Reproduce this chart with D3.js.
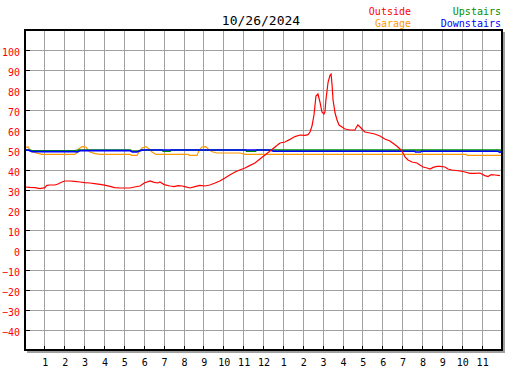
<!DOCTYPE html>
<html>
<head>
    <meta charset="utf-8">
    <style>
        body {
            margin: 0;
            background: white;
        }

        svg {
            display: block;
            font-family: 'DejaVu Sans Mono', monospace;
        }

        .grid line {
            stroke: #a0a0a0;
            stroke-width: 1;
            shape-rendering: crispEdges;
        }

        .series {
            fill: none;
            stroke-linejoin: miter;
        }
    </style>
</head>
<body>
    <svg width="527" height="370"></svg>

<script src="https://d3js.org/d3.v7.min.js"></script>
<script>
    // ---- data (hour of day, degrees) ----
    let title = "10/26/2024"

    let yTicks = [-40, -30, -20, -10, 0, 10, 20, 30, 40, 50, 60, 70, 80, 90, 100]
    let xTicks = [1, 2, 3, 4, 5, 6, 7, 8, 9, 10, 11, 12, 13, 14, 15, 16, 17, 18, 19, 20, 21, 22, 23]
    let xLabels = ["1", "2", "3", "4", "5", "6", "7", "8", "9", "10", "11", "12",
        "1", "2", "3", "4", "5", "6", "7", "8", "9", "10", "11"]

    let outside = [
        [0, 31.5], [0.25, 31.3], [0.5, 31.2], [0.75, 30.7], [1.0, 31.2], [1.1, 32.3], [1.25, 32.5],
        [1.5, 32.5], [1.66, 33], [1.86, 34], [2.0, 34.5], [2.26, 34.5], [2.5, 34.3], [2.77, 34],
        [3.0, 33.7], [3.27, 33.5], [3.5, 33.2], [3.77, 32.8], [4.0, 32.4], [4.28, 31.8], [4.5, 31.2],
        [4.78, 31], [5.0, 31], [5.28, 31], [5.5, 31.5], [5.79, 32], [6.0, 33.5], [6.29, 34.5],
        [6.5, 33.8], [6.69, 33.5], [6.79, 34], [7.0, 32.7], [7.3, 32], [7.5, 31.7], [7.7, 32.2],
        [7.9, 32], [8.05, 31.7], [8.3, 31], [8.55, 31.7], [8.8, 32.3], [9.05, 32], [9.3, 32.5],
        [9.56, 33.5], [9.8, 34.5], [10.06, 36], [10.3, 37.5], [10.57, 39], [10.8, 40], [11.07, 41],
        [11.3, 42.2], [11.57, 43.5], [11.82, 45.5], [12.08, 47.5], [12.33, 49.5], [12.58, 51.5],
        [12.83, 53.5], [13.08, 54], [13.33, 55.3], [13.58, 56.7], [13.84, 57.5], [14.09, 57.3],
        [14.24, 57.7], [14.34, 59], [14.44, 62], [14.54, 67.5], [14.64, 77], [14.74, 78],
        [14.84, 74], [14.94, 69], [15.04, 68], [15.09, 69], [15.14, 75], [15.25, 84], [15.35, 87.5],
        [15.4, 88], [15.45, 82.5], [15.5, 75], [15.6, 68.5], [15.7, 65], [15.8, 62.5], [15.95, 61.5],
        [16.1, 60.5], [16.35, 60], [16.6, 60], [16.65, 61], [16.75, 62.5], [16.86, 61.5], [17.0, 60],
        [17.1, 59], [17.36, 58.5], [17.6, 58], [17.86, 57], [18.1, 55.5], [18.36, 54.5], [18.5, 53.5],
        [18.7, 52], [18.87, 50.5], [19.02, 48.5], [19.12, 46.5], [19.27, 45], [19.47, 44],
        [19.72, 43.5], [19.87, 42.5], [20.03, 41.5], [20.23, 41], [20.38, 40.5], [20.53, 41.3],
        [20.73, 41.8], [20.88, 41.8], [21.13, 41.5], [21.28, 40.5], [21.48, 40], [21.89, 39.5],
        [22.14, 39], [22.39, 38.3], [22.64, 38.3], [22.89, 38.5], [23.14, 37.2], [23.3, 36.7],
        [23.45, 37.7], [23.65, 37.5], [23.9, 37.2]
    ]

    let garage = [
        [0, 51.3], [0.15, 51.5], [0.25, 50], [0.4, 49], [0.65, 48.3], [0.85, 47.8], [2.5, 47.8],
        [2.6, 48.5], [2.7, 50.5], [2.87, 51.7], [3.07, 51.5], [3.17, 50], [3.27, 49], [3.52, 48.2],
        [3.77, 47.8], [5.28, 47.8], [5.38, 47.3], [5.64, 47.3], [5.74, 49], [5.89, 51], [6.09, 51.7],
        [6.24, 50.5], [6.39, 49], [6.59, 47.8], [8.2, 47.8], [8.3, 47.3], [8.65, 47.3], [8.75, 49.5],
        [8.9, 51.5], [9.1, 51.7], [9.26, 50], [9.46, 49], [9.66, 48.5], [10.82, 48.5], [11.07, 47.8],
        [22.19, 47.8], [22.25, 47.3], [24, 47.3]
    ]

    let upstairs = [
        [0, 50], [0.25, 50], [0.35, 49.6], [2.5, 49.6], [2.7, 50], [5.3, 50], [5.38, 49.4],
        [5.7, 49.4], [5.85, 50], [6.9, 50], [6.95, 49.4], [7.3, 49.4], [7.35, 50], [11.1, 50],
        [11.15, 49.4], [11.6, 49.4], [11.65, 50], [23.9, 50], [24, 49.6]
    ]

    let downstairs = [
        [0, 50], [0.15, 50], [0.35, 49.2], [2.5, 49.2], [2.65, 49], [2.77, 49.7], [5.28, 49.7],
        [5.4, 49], [5.64, 49], [5.8, 49.7], [5.95, 50], [12.33, 50], [12.5, 49.4], [19.6, 49.4],
        [19.65, 49], [19.9, 49], [19.95, 49.4], [23.8, 49.4], [23.9, 48.8], [24, 49.4]
    ]

    let legend = [
        { name: "Outside", color: "#ff0000", col: 0, row: 0 },
        { name: "Garage", color: "#ff9900", col: 0, row: 1 },
        { name: "Upstairs", color: "#009000", col: 1, row: 0 },
        { name: "Downstairs", color: "#0000ff", col: 1, row: 1 }
    ]

    // ---- layout ----
    let plotLeft = 25, plotRight = 502, plotTop = 30, plotBottom = 350

    let svg = d3.select("svg")

    let x = d3.scaleLinear().domain([0, 24]).range([plotLeft, plotRight])
    let y = d3.scaleLinear().domain([-50, 110]).range([plotBottom, plotTop])

    // background
    svg.append("rect")
        .attr("width", 527).attr("height", 370)
        .attr("fill", "white")

    // grid
    let grid = svg.append("g").attr("class", "grid")

    grid.selectAll(".hline")
        .data(yTicks)
        .join("line")
        .attr("x1", plotLeft).attr("x2", plotRight)
        .attr("y1", d => y(d)).attr("y2", d => y(d))

    grid.selectAll(".vline")
        .data(xTicks)
        .join("line")
        .attr("x1", d => x(d)).attr("x2", d => x(d))
        .attr("y1", plotTop).attr("y2", plotBottom)

    // small black ticks inside the frame
    svg.append("g")
        .selectAll("line")
        .data(yTicks)
        .join("line")
        .attr("x1", plotLeft).attr("x2", plotLeft + 5)
        .attr("y1", d => y(d)).attr("y2", d => y(d))
        .attr("stroke", "black")
        .attr("shape-rendering", "crispEdges")

    svg.append("g")
        .selectAll("line")
        .data(xTicks)
        .join("line")
        .attr("x1", d => x(d)).attr("x2", d => x(d))
        .attr("y1", plotBottom - 4).attr("y2", plotBottom)
        .attr("stroke", "black")
        .attr("shape-rendering", "crispEdges")

    // series
    let line = d3.line()
        .x(d => x(d[0]))
        .y(d => y(d[1]))

    let series = [
        { data: garage, color: "#ff9900", w: 1.2 },
        { data: upstairs, color: "#009000", w: 1.6 },
        { data: downstairs, color: "#0000ff", w: 1.6 },
        { data: outside, color: "#ff0000", w: 1.2 }
    ]

    svg.append("g")
        .selectAll("path")
        .data(series)
        .join("path")
        .attr("class", "series")
        .attr("d", d => line(d.data))
        .attr("stroke", d => d.color)
        .attr("stroke-width", d => d.w)

    // frame with grey shadow on the right and bottom
    svg.append("path")
        .attr("d", `M${plotLeft + 2},${plotBottom + 2}H${plotRight + 2}V${plotTop + 2}`)
        .attr("fill", "none")
        .attr("stroke", "#a0a0a0")
        .attr("stroke-width", 2)

    svg.append("rect")
        .attr("x", plotLeft).attr("y", plotTop)
        .attr("width", plotRight - plotLeft).attr("height", plotBottom - plotTop)
        .attr("fill", "none")
        .attr("stroke", "black")
        .attr("stroke-width", 2)

    // axes labels
    let yAxis = svg.append("g")
        .attr("transform", `translate(${plotLeft},0)`)
        .call(d3.axisLeft(y).tickValues(yTicks).tickSize(0).tickPadding(5))
    yAxis.select(".domain").remove()
    yAxis.selectAll("text")
        .attr("fill", "#ff0000")
        .attr("dy", "0.5em")
        .style("font-family", "'DejaVu Sans Mono', monospace")
        .style("font-size", "10px")

    let xAxis = svg.append("g")
        .attr("transform", `translate(0,${plotBottom})`)
        .call(d3.axisBottom(x).tickValues(xTicks).tickSize(0).tickPadding(9)
            .tickFormat((d, i) => xLabels[i]))
    xAxis.select(".domain").remove()
    xAxis.selectAll("text")
        .attr("fill", "black")
        .style("font-family", "'DejaVu Sans Mono', monospace")
        .style("font-size", "10px")

    // title
    svg.append("text")
        .attr("x", 261).attr("y", 25)
        .attr("text-anchor", "middle")
        .style("font-size", "13px")
        .text(title)

    // legend
    svg.selectAll(".legend")
        .data(legend)
        .join("text")
        .attr("class", "legend")
        .attr("x", d => d.col == 0 ? 411 : 501)
        .attr("y", d => d.row == 0 ? 15 : 27)
        .attr("text-anchor", "end")
        .attr("fill", d => d.color)
        .style("font-size", "10px")
        .text(d => d.name)
</script>
</body>
</html>
